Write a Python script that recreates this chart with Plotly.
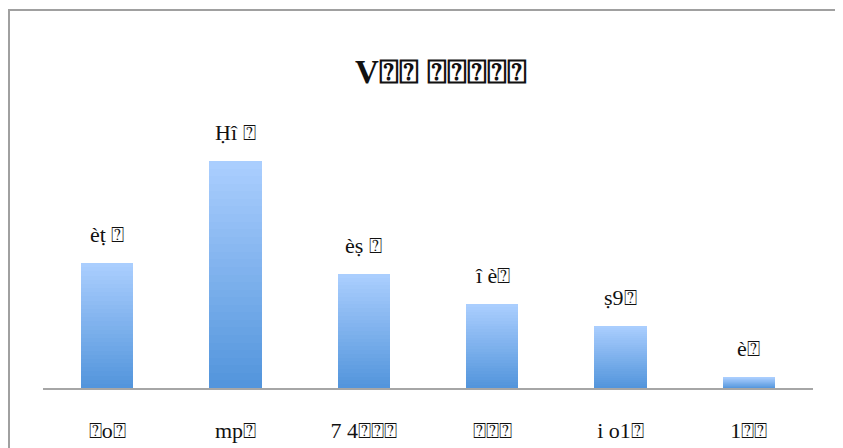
import plotly.graph_objects as go

# values (bar heights)
categories = ["⍰o⍰", "mp⍰", "7 4⍰⍰⍰", "⍰⍰⍰", "i o1⍰", "1⍰⍰"]
values = [125, 227, 114, 84, 62, 11]
value_labels = ["èṭ ⍰", "Ḥî ⍰", "èṣ ⍰", "î è⍰", "ṣ9⍰", "è⍰"]
title_text = "V⍰⍰ ⍰⍰⍰⍰⍰"

# gradient: light at the top of each bar, darker at the bottom
top_rgb = (170, 206, 254)
bottom_rgb = (83, 149, 220)
n_slices = 30

# the page body adds an 8px margin, so the figure is laid out 8px up/left
OFF = 8
L, T, W, H = 43 - OFF, 100 - OFF, 770, 288

fig = go.Figure()

x_idx = list(range(len(categories)))
for i in range(n_slices):
    t = i / (n_slices - 1)
    rgb = tuple(round(b + (a - b) * t) for a, b in zip(top_rgb, bottom_rgb))
    fig.add_trace(go.Bar(
        x=x_idx,
        y=[v / n_slices for v in values],
        marker=dict(color="rgb(%d,%d,%d)" % rgb, line=dict(width=0)),
        width=0.41,
        hoverinfo="skip",
        showlegend=False,
    ))

label_font = dict(family="Liberation Serif", size=22, color="#111111")
annotations = [dict(
    x=x, y=v, text=lab, xref="x", yref="y", showarrow=False,
    yanchor="bottom", yshift=14, font=label_font,
) for x, v, lab in zip(x_idx, values, value_labels)]

annotations.append(dict(
    text="<b>" + title_text + "</b>",
    xref="paper", yref="paper", x=(441 - OFF - L) / W, y=(T + H - (72 - OFF)) / H,
    xanchor="center", yanchor="middle", showarrow=False,
    font=dict(family="Liberation Serif", size=33, color="#111111"),
))

fig.update_layout(
    barmode="stack",
    bargap=0,
    width=843, height=448,
    margin=dict(l=L, r=843 - L - W, t=T, b=448 - T - H),
    paper_bgcolor="white",
    plot_bgcolor="white",
    xaxis=dict(
        range=[-0.5, len(categories) - 0.5],
        tickvals=x_idx, ticktext=categories,
        showline=True, linecolor="#a6a6a6", linewidth=2,
        showgrid=False, zeroline=False,
        ticks="outside", ticklen=0, ticklabelstandoff=22,
        tickfont=label_font,
    ),
    yaxis=dict(range=[0, H], visible=False),
    annotations=annotations,
    shapes=[dict(
        type="rect", xref="paper", yref="paper",
        x0=(1 - L) / W, x1=(870 - L) / W,
        y0=-0.5, y1=(T + H - (10 - OFF)) / H,
        line=dict(color="#a0a0a0", width=2),
    )],
)

fig.write_html("out.html", config={"displayModeBar": False})
